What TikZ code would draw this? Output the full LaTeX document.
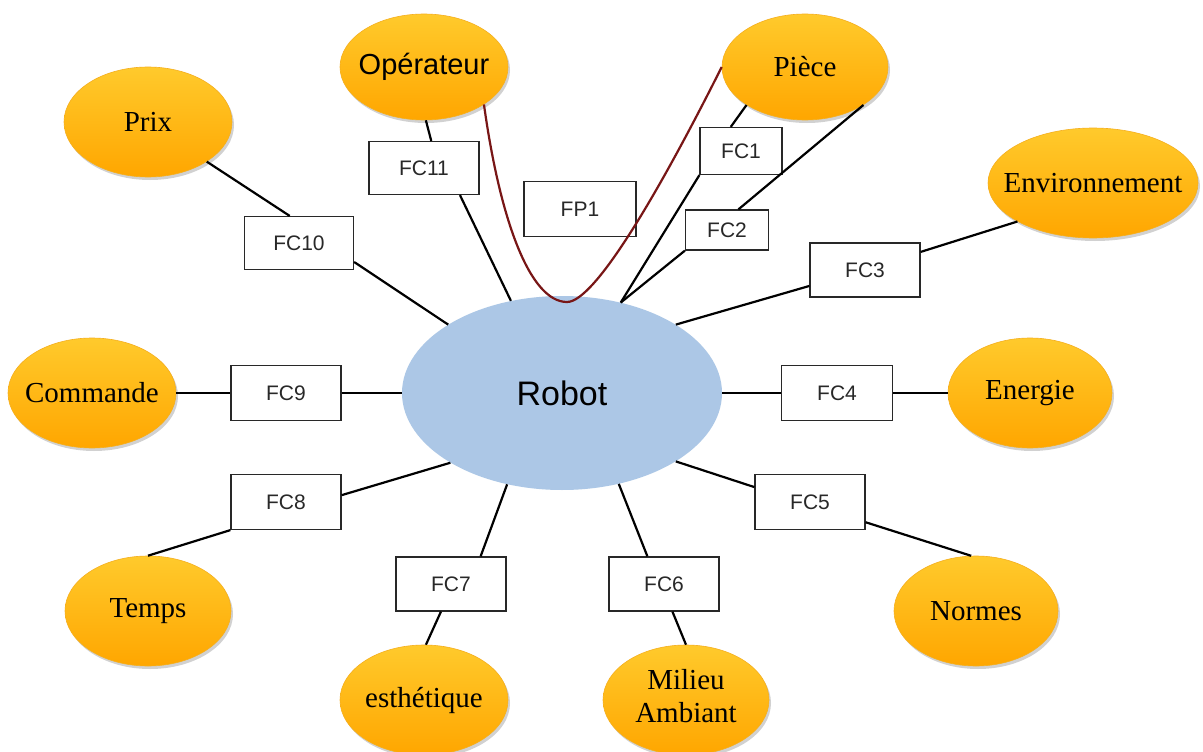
\documentclass[tikz,border=0pt]{standalone}
\usepackage{fontspec}
\setmainfont{Liberation Serif}
\newfontfamily\arialf{Liberation Sans}
\usetikzlibrary{shapes.geometric,shadows}
\definecolor{orTop}{RGB}{255,202,44}
\definecolor{orBot}{RGB}{255,166,0}
\definecolor{orEdge}{RGB}{245,175,30}
\definecolor{robotblue}{RGB}{172,199,230}
\definecolor{fpred}{RGB}{120,22,22}
\definecolor{boxgray}{RGB}{40,40,40}
\begin{document}
\begin{tikzpicture}[x=1pt,y=-1pt,
  outer/.style={ellipse,inner sep=0pt,top color=orTop,bottom color=orBot,draw=orEdge,line width=0.6pt,
    drop shadow={shadow xshift=2pt,shadow yshift=-3pt,opacity=0.18,fill=black},
    font=\fontsize{29}{32}\selectfont},
  fcbox/.style={rectangle,draw=boxgray,line width=1.2pt,fill=white,inner sep=0pt,
    text=boxgray,font=\arialf\fontsize{21}{24}\selectfont},
  link/.style={line width=2.2pt,black}]
\useasboundingbox[fill=white] (0,0) rectangle (1203,752);

% central
\node[ellipse,fill=robotblue,inner sep=0pt,minimum width=320pt,minimum height=194pt,
  font=\arialf\fontsize{34}{38}\selectfont] (robot) at (562,393) {Robot};

% outer ellipses
\node[outer,minimum width=168pt,minimum height=106pt,font=\arialf\fontsize{29}{32}\selectfont] (op) at (424,67) {\makebox[0pt]{Opérateur}};
\node[outer,minimum width=166pt,minimum height=106pt] (pie) at (805,67) {\makebox[0pt]{Pièce}};
\node[outer,minimum width=168pt,minimum height=110pt] (prix) at (148,122) {\makebox[0pt]{Prix}};
\node[outer,minimum width=210pt,minimum height=110pt] (env) at (1093,183) {\makebox[0pt]{Environnement}};
\node[outer,minimum width=168pt,minimum height=110pt] (com) at (92,393) {\makebox[0pt]{Commande}};
\node[outer,minimum width=164pt,minimum height=110pt] (ene) at (1030,393) {\makebox[0pt]{Energie}};
\node[outer,minimum width=166pt,minimum height=110pt] (tps) at (148,611) {\makebox[0pt]{Temps}};
\node[outer,minimum width=164pt,minimum height=110pt] (nor) at (976,611) {\makebox[0pt]{Normes}};
\node[outer,minimum width=168pt,minimum height=110pt] (est) at (424,700) {\makebox[0pt]{esthétique}};
\node[outer,minimum width=166pt,minimum height=110pt] (mil) at (686,700) {\makebox[0pt]{\raisebox{-2pt}{\begin{tabular}{@{}c@{}}Milieu\\[1pt]Ambiant\end{tabular}}}};

% boxes
\node[fcbox,minimum width=110pt,minimum height=53pt] (fc11) at (424,168) {FC11};
\node[fcbox,minimum width=112pt,minimum height=55pt] (fp1) at (580,209) {FP1};
\node[fcbox,minimum width=82pt,minimum height=47pt] (fc1) at (741,151) {FC1};
\node[fcbox,minimum width=83pt,minimum height=40pt] (fc2) at (727,230) {FC2};
\node[fcbox,minimum width=109pt,minimum height=53pt] (fc10) at (299,243) {FC10};
\node[fcbox,minimum width=110pt,minimum height=54pt] (fc3) at (865,270) {FC3};
\node[fcbox,minimum width=110pt,minimum height=55pt] (fc9) at (286,393) {FC9};
\node[fcbox,minimum width=111pt,minimum height=55pt] (fc4) at (837,393) {FC4};
\node[fcbox,minimum width=110pt,minimum height=55pt] (fc8) at (286,502) {FC8};
\node[fcbox,minimum width=110pt,minimum height=55pt] (fc5) at (810,502) {FC5};
\node[fcbox,minimum width=110pt,minimum height=54pt] (fc7) at (451,584) {FC7};
\node[fcbox,minimum width=110pt,minimum height=54pt] (fc6) at (664,584) {FC6};

% connectors
\draw[link] (op.-88) -- (fc11.75);
\draw[link] (fc11.-37) -- (robot.119);
\draw[link] (prix.-34) -- (fc10.109);
\draw[link] (fc10.-19) -- (robot.149);
\draw[link] (pie.213) -- (fc1.113);
\draw[link] (fc1.south west) -- (robot.57);
\draw[link] (pie.-33) -- (fc2.61);
\draw[link] (fc2.south west) -- (robot.57);
\draw[link] (env.207) -- (fc3.18);
\draw[link] (fc3.196) -- (robot.31);
\draw[link] (com.east) -- (fc9.west);
\draw[link] (fc9.east) -- (robot.west);
\draw[link] (robot.east) -- (fc4.west);
\draw[link] (fc4.east) -- (ene.west);
\draw[link] (tps.north) -- (fc8.south west);
\draw[link] (fc8.7) -- (robot.212);
\draw[link] (robot.329) -- (fc5.165);
\draw[link] (fc5.-20) -- (nor.95);
\draw[link] (robot.302) -- (fc6.121);
\draw[link] (fc6.-73) -- (mil.north);
\draw[link] (robot.239) -- (fc7.43);
\draw[link] (fc7.250) -- (est.88);

% FP1 curve
\coordinate (fpb) at (567,302);
\draw[line width=2.2pt,fpred] (op.-32) .. controls (500,220) and (530,302) .. (fpb)
  .. controls (595,302) and (660,190) .. (pie.west);
\end{tikzpicture}
\end{document}
